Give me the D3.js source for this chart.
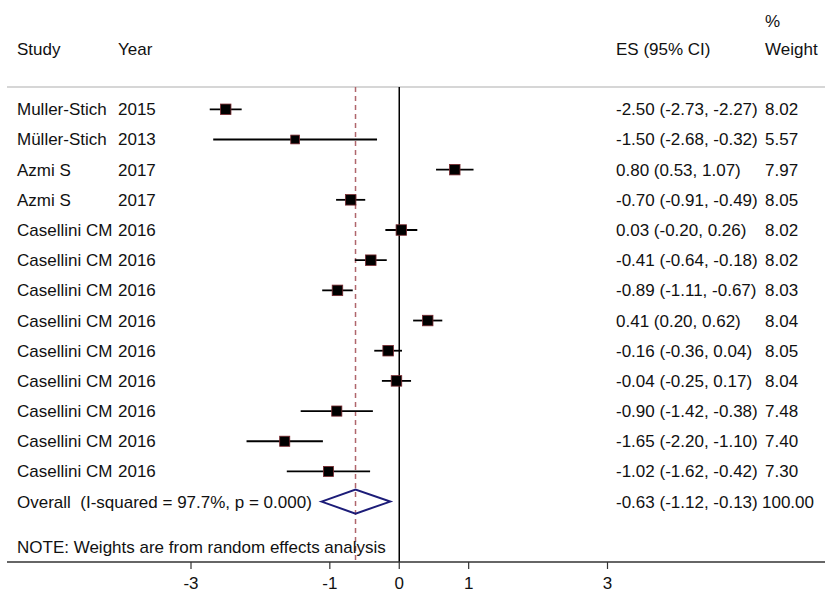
<!DOCTYPE html>
<meta charset="utf-8">
<style>
  body { margin: 0; background: #fff; }
  text { font-family: "Liberation Sans", Arial, sans-serif; font-size: 17px; fill: #111; }
</style>
<body>
<script src="https://d3js.org/d3.v7.min.js"></script>
<script>

// study rows
var studies = ["Muller-Stich", "Müller-Stich", "Azmi S", "Azmi S", "Casellini CM", "Casellini CM",
  "Casellini CM", "Casellini CM", "Casellini CM", "Casellini CM", "Casellini CM", "Casellini CM", "Casellini CM"];
var years = ["2015", "2013", "2017", "2017", "2016", "2016", "2016", "2016", "2016", "2016", "2016", "2016", "2016"];
var es    = [-2.50, -1.50, 0.80, -0.70, 0.03, -0.41, -0.89, 0.41, -0.16, -0.04, -0.90, -1.65, -1.02];
var lower = [-2.73, -2.68, 0.53, -0.91, -0.20, -0.64, -1.11, 0.20, -0.36, -0.25, -1.42, -2.20, -1.62];
var upper = [-2.27, -0.32, 1.07, -0.49, 0.26, -0.18, -0.67, 0.62, 0.04, 0.17, -0.38, -1.10, -0.42];
var weights = [8.02, 5.57, 7.97, 8.05, 8.02, 8.02, 8.03, 8.04, 8.05, 8.04, 7.48, 7.40, 7.30];

// pooled estimate
var overall = {label: "Overall  (I-squared = 97.7%, p = 0.000)", es: -0.63, lo: -1.12, hi: -0.13, w: "100.00"};

var xTicks = [-3, -1, 0, 1, 3];

var W = 825, H = 592;
var svg = d3.select("body").append("svg")
  .attr("width", W)
  .attr("height", H);

var x = d3.scaleLinear().domain([-3, 3]).range([191, 607.5]);
var y = d3.scaleLinear().domain([0, 13]).range([109.3, 501.6]);

// plain hyphen for the minus sign, like the original
var f = d3.formatLocale({decimal: ".", thousands: ",", grouping: [3], currency: ["", ""], minus: "-"}).format(".2f");
var topLine = 87, axisY = 562;

// header
svg.append("text").attr("x", 17).attr("y", 55).text("Study");
svg.append("text").attr("x", 118).attr("y", 55).text("Year");
svg.append("text").attr("x", 616).attr("y", 55).text("ES (95% CI)");
svg.append("text").attr("x", 765).attr("y", 27).text("%");
svg.append("text").attr("x", 765).attr("y", 55).text("Weight");

svg.append("line")
  .attr("x1", 7).attr("x2", W)
  .attr("y1", topLine).attr("y2", topLine)
  .attr("stroke", "#c8c8c8").attr("stroke-width", 1.5);

// no-effect line
svg.append("line")
  .attr("x1", x(0)).attr("x2", x(0))
  .attr("y1", topLine).attr("y2", axisY)
  .attr("stroke", "#000").attr("stroke-width", 1.5);

// overall effect dashed line
svg.append("line")
  .attr("x1", x(overall.es)).attr("x2", x(overall.es))
  .attr("y1", topLine).attr("y2", axisY)
  .attr("stroke", "#b0666c").attr("stroke-width", 1.5)
  .attr("stroke-dasharray", "5,4");

var rows = studies.map(function(s, i) {
  return {study: s, year: years[i], es: es[i], lo: lower[i], hi: upper[i], w: weights[i]};
});

// CI lines
svg.selectAll("ciLines")
  .data(rows)
  .enter()
  .append("line")
    .attr("x1", function(d) { return x(d.lo); })
    .attr("x2", function(d) { return x(d.hi); })
    .attr("y1", function(d, i) { return y(i); })
    .attr("y2", function(d, i) { return y(i); })
    .attr("stroke", "#000")
    .attr("stroke-width", 1.8);

// weight squares
var side = d3.scaleSqrt().domain([0, 8]).range([0, 10.5]);
svg.selectAll("boxes")
  .data(rows)
  .enter()
  .append("rect")
    .attr("x", function(d) { return x(d.es) - side(d.w) / 2; })
    .attr("y", function(d, i) { return y(i) - side(d.w) / 2; })
    .attr("width", function(d) { return side(d.w); })
    .attr("height", function(d) { return side(d.w); })
    .attr("fill", "#000")
    .attr("stroke", "#7a2a30")
    .attr("stroke-width", 0.8);

// left / right text columns
var labels = svg.selectAll("rowText")
  .data(rows)
  .enter()
  .append("g")
    .attr("transform", function(d, i) { return "translate(0," + (y(i) + 6) + ")"; });
labels.append("text").attr("x", 17).text(function(d) { return d.study; });
labels.append("text").attr("x", 118).text(function(d) { return d.year; });
labels.append("text").attr("x", 616)
  .text(function(d) { return f(d.es) + " (" + f(d.lo) + ", " + f(d.hi) + ")"; });
labels.append("text").attr("x", 765).text(function(d) { return f(d.w); });

// overall diamond
var oy = y(13);
svg.append("path")
  .attr("d", "M" + x(overall.lo) + "," + oy +
             "L" + x(overall.es) + "," + (oy - 12) +
             "L" + x(overall.hi) + "," + oy +
             "L" + x(overall.es) + "," + (oy + 12) + "Z")
  .attr("fill", "none")
  .attr("stroke", "#1c1c78")
  .attr("stroke-width", 2);

svg.append("text").attr("x", 17).attr("y", oy + 6)
  .style("white-space", "pre").text(overall.label);
svg.append("text").attr("x", 616).attr("y", oy + 6)
  .text(f(overall.es) + " (" + f(overall.lo) + ", " + f(overall.hi) + ")");
svg.append("text").attr("x", 762).attr("y", oy + 6).text(overall.w);

svg.append("text").attr("x", 17).attr("y", 553)
  .text("NOTE: Weights are from random effects analysis");

// x axis
svg.append("line")
  .attr("x1", 7).attr("x2", W)
  .attr("y1", axisY).attr("y2", axisY)
  .attr("stroke", "#333").attr("stroke-width", 1.5);

var tick = svg.selectAll("ticks")
  .data(xTicks)
  .enter()
  .append("g")
    .attr("transform", function(d) { return "translate(" + x(d) + "," + axisY + ")"; });
tick.append("line").attr("y1", 0).attr("y2", 7).attr("stroke", "#333").attr("stroke-width", 1.2);
tick.append("text").attr("y", 27).attr("text-anchor", "middle").text(function(d) { return d; });

</script>
</body>
